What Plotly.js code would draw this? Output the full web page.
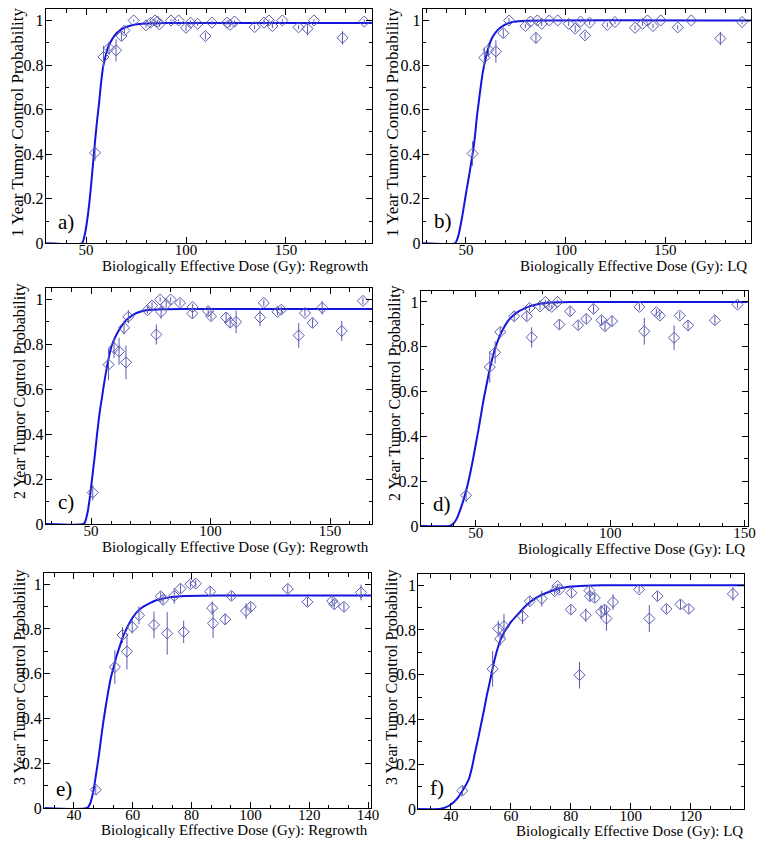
<!DOCTYPE html>
<html>
<head>
<meta charset="utf-8">
<script src="https://cdn.plot.ly/plotly-3.0.1.min.js"></script>
<style>html,body{margin:0;padding:0;background:#fff;}#chart{width:762px;height:846px;}</style>
</head>
<body>
<div id="chart"></div>
<script>
// ---------------- DATA ----------------
// Panel a: 1 year, Regrowth
var aX   = [54.5,58.7,61.5,65.0,67.7,69.2,73.8,80.0,82.3,84.5,85.7,86.7,92.5,96.3,100.0,102.3,105.8,109.7,113.0,120.5,122.0,124.3,134.3,139.0,141.5,143.2,148.2,156.3,160.8,164.0,178.3,189.2];
var aY   = [0.406,0.836,0.876,0.866,0.93,0.955,1.0,0.978,0.99,1.0,0.995,0.982,1.0,1.0,0.967,0.99,0.985,0.93,0.99,0.99,0.98,0.995,0.97,0.99,1.0,0.975,1.0,0.969,0.963,1.0,0.922,0.995];
var aErr = [0.035,0.05,0.03,0.05,0.02,0.015,0.005,0.01,0.01,0.005,0.005,0.01,0.005,0.005,0.015,0.01,0.01,0.015,0.01,0.01,0.01,0.005,0.01,0.01,0.005,0.01,0.005,0.01,0.03,0.005,0.03,0.01];
var aFitX = [30,48,48.7,49.5,50.5,51.5,52.5,53.5,54.5,55.5,56.5,57.5,58.5,59.5,61,63,65,68,72,78,90,193];
var aFitY = [0,0,0.015,0.045,0.1,0.17,0.26,0.36,0.46,0.55,0.63,0.72,0.79,0.83,0.88,0.915,0.94,0.962,0.976,0.985,0.988,0.988];

// Panel b: 1 year, LQ
var bX   = [53.3,59.2,61.3,65.0,68.7,71.6,79.8,82.3,85.1,85.8,88.0,91.8,96.0,101.5,104.8,107.5,109.7,112.0,120.9,124.7,134.8,138.6,141.0,143.8,147.7,156.2,163.0,177.6,188.5];
var bY   = [0.403,0.833,0.869,0.861,0.943,1.0,0.975,0.995,0.922,1.0,0.985,1.0,1.0,0.985,0.963,0.995,0.933,0.99,0.98,0.993,0.967,0.985,1.0,0.975,1.0,0.969,1.0,0.919,0.993];
var bErr = [0.055,0.045,0.03,0.05,0.02,0.01,0.01,0.005,0.025,0.005,0.01,0.005,0.005,0.01,0.015,0.005,0.015,0.01,0.01,0.01,0.01,0.01,0.005,0.01,0.005,0.01,0.005,0.03,0.01];
var bFitX = [28,44.5,45.5,46.5,47.5,48.5,49.5,50.5,51.5,52.5,53.5,54.5,55.5,56.5,57.5,58.5,59.5,61,63,65,67,70,74,80,193];
var bFitY = [0,0,0.015,0.045,0.09,0.14,0.195,0.25,0.3,0.355,0.41,0.48,0.57,0.64,0.71,0.77,0.815,0.87,0.92,0.948,0.966,0.983,0.994,0.999,1];

// Panel c: 2 year, Regrowth
var cX   = [50.7,57.3,59.6,61.7,63.8,64.6,65.6,73.6,75.5,77.3,78.9,79.3,81.4,83.3,87.2,92.4,92.5,99.0,100.2,106.5,108.2,110.7,120.7,122.3,128.0,129.6,136.9,139.5,142.7,146.7,154.9,163.8];
var cY   = [0.14,0.71,0.784,0.769,0.874,0.72,0.923,0.952,0.973,0.844,1.0,0.945,0.979,1.0,0.985,0.938,0.967,0.948,0.926,0.92,0.897,0.9,0.92,0.985,0.945,0.955,0.84,0.94,0.896,0.963,0.86,0.994];
var cErr = [0.035,0.07,0.045,0.06,0.03,0.075,0.03,0.015,0.015,0.045,0.01,0.03,0.015,0.01,0.015,0.02,0.015,0.02,0.02,0.02,0.02,0.05,0.04,0.015,0.015,0.015,0.055,0.015,0.02,0.03,0.045,0.015];
var cFitX = [31,46.8,47.5,48.5,49.5,50.5,51.5,52.5,53.5,54.5,55.5,57,58.5,60,62,64,66,69,73,80,90,168];
var cFitY = [0,0,0.01,0.05,0.12,0.21,0.3,0.4,0.49,0.56,0.63,0.72,0.79,0.83,0.87,0.9,0.92,0.94,0.952,0.957,0.958,0.958];

// Panel d: 2 year, LQ
var dX   = [46.4,55.2,57.2,59.1,64.3,69.0,70.0,70.8,73.9,75.9,77.3,78.3,80.4,81.1,85.1,88.1,91.1,93.8,96.8,98.1,100.7,110.9,112.7,117.2,118.5,123.8,125.9,129.0,139.0,147.4];
var dY   = [0.137,0.709,0.775,0.866,0.936,0.936,0.973,0.842,0.98,1.0,0.984,0.978,1.0,0.899,0.958,0.896,0.924,0.969,0.918,0.892,0.914,0.978,0.869,0.954,0.939,0.84,0.939,0.895,0.918,0.988];
var dErr = [0.03,0.07,0.05,0.02,0.02,0.02,0.015,0.045,0.015,0.01,0.01,0.01,0.01,0.02,0.02,0.02,0.02,0.02,0.02,0.02,0.025,0.015,0.06,0.015,0.015,0.055,0.015,0.02,0.02,0.015];
var dFitX = [29.5,40,41,42,43,44,45,46,47,48,49,50,51,52,53,54,55,56,57,58,59,60,62,64,66,68,70,73,76,80,85,151.2];
var dFitY = [0,0,0.005,0.015,0.035,0.065,0.1,0.14,0.185,0.24,0.3,0.365,0.43,0.5,0.57,0.63,0.69,0.74,0.785,0.82,0.85,0.875,0.915,0.94,0.958,0.97,0.98,0.99,0.995,0.998,1,1];

// Panel e: 3 year, Regrowth
var eX   = [47.4,53.9,56.5,58.0,59.8,62.1,67.2,69.5,70.3,71.7,74.1,76.2,77.3,79.6,81.4,86.3,87.0,87.3,91.4,93.5,98.5,100.1,112.7,119.4,127.8,128.5,131.8,137.6];
var eY   = [0.082,0.63,0.773,0.699,0.809,0.861,0.818,0.946,0.93,0.78,0.948,0.98,0.787,1.0,1.003,0.967,0.893,0.825,0.843,0.948,0.88,0.899,0.979,0.921,0.925,0.91,0.899,0.963];
var eErr = [0.02,0.075,0.035,0.08,0.03,0.04,0.06,0.02,0.02,0.095,0.035,0.02,0.05,0.015,0.015,0.02,0.03,0.065,0.025,0.02,0.035,0.02,0.02,0.02,0.02,0.02,0.02,0.035];
var eFitX = [30,44.5,45.5,46.5,47.5,48.5,49.5,50.5,51.5,52.5,53.5,54.5,55.5,56.5,57.5,59,61,63,65,68,72,78,90,141];
var eFitY = [0,0,0.02,0.07,0.15,0.24,0.34,0.43,0.51,0.58,0.63,0.68,0.72,0.76,0.79,0.83,0.87,0.895,0.91,0.928,0.94,0.947,0.949,0.949];

// Panel f: 3 year, LQ
var fX   = [43.8,53.9,55.8,56.4,57.7,63.9,66.3,70.3,74.6,75.5,76.2,80.0,80.2,82.9,85.0,86.2,86.4,88.0,90.1,91.3,91.9,94.1,102.8,106.2,108.9,111.9,116.6,119.4,134.1];
var fY   = [0.082,0.626,0.806,0.76,0.817,0.861,0.928,0.94,0.973,0.996,0.98,0.891,0.966,0.598,0.866,0.976,0.951,0.943,0.881,0.891,0.851,0.925,0.981,0.851,0.951,0.894,0.914,0.894,0.961];
var fErr = [0.02,0.08,0.035,0.03,0.055,0.035,0.02,0.035,0.015,0.01,0.015,0.02,0.02,0.06,0.03,0.02,0.025,0.02,0.03,0.02,0.055,0.035,0.015,0.06,0.02,0.02,0.02,0.02,0.03];
var fFitX = [29,36,38,40,42,44,46,47,48,49,50,51,52,53,54,55,56,57,58,60,62,64,66,68,70,73,76,80,85,90,138];
var fFitY = [0,0,0.006,0.02,0.045,0.085,0.135,0.185,0.25,0.31,0.375,0.44,0.51,0.57,0.635,0.69,0.735,0.77,0.795,0.835,0.865,0.895,0.92,0.94,0.955,0.972,0.985,0.994,0.998,1,1];

var yTitles = ["1 Year Tumor Control Probability","1 Year Tumor Control Probability",
               "2 Year Tumor Control Probability","2 Year Tumor Control Probability",
               "3 Year Tumor Control Probability","3 Year Tumor Control Probability"];
var xTitles = ["Biologically Effective Dose (Gy): Regrowth","Biologically Effective Dose (Gy): LQ",
               "Biologically Effective Dose (Gy): Regrowth","Biologically Effective Dose (Gy): LQ",
               "Biologically Effective Dose (Gy): Regrowth","Biologically Effective Dose (Gy): LQ"];
var panelLabels = ["a)","b)","c)","d)","e)","f)"];

// ---------------- LAYOUT ----------------
var W = 762, H = 846;
function px(x){ return x / W; }
function py(y){ return 1 - y / H; }

var FONT = "Liberation Serif";
var lineCol = "#1414e0";
var ptCol = "#5a5ab2";

var panels = [
  {box:[45.7,372.3,9.3,243.3],  xr:[29.8,193.2], dt:50, mdt:10,   xt:[370.7,266], yt:[18,122],  yfs:17, lab:[66,222]},
  {box:[422.7,750.7,9.3,243.3], xr:[28.3,192.8], dt:50, mdt:10,   xt:[749,266],   yt:[393,122], yfs:17, lab:[443,221]},
  {box:[45.7,372.3,288.3,524],  xr:[31,167.7],   dt:50, mdt:50/6, xt:[370.7,547], yt:[20,391],  yfs:16, lab:[66,502]},
  {box:[420.7,747.7,290.7,526], xr:[29.5,151.2], dt:50, mdt:50/6, xt:[747,549],   yt:[395,393], yfs:16, lab:[442,504]},
  {box:[44,371,573,808],        xr:[29.8,141],   dt:20, mdt:20/3, xt:[370,830],   yt:[20,677],  yfs:16, lab:[64,789]},
  {box:[418.3,744.3,574,809],   xr:[29.1,137.9], dt:20, mdt:20/3, xt:[745,831],   yt:[392,677], yfs:16, lab:[437,788]}
];

var sets = [
  [aX,aY,aErr,aFitX,aFitY],[bX,bY,bErr,bFitX,bFitY],[cX,cY,cErr,cFitX,cFitY],
  [dX,dY,dErr,dFitX,dFitY],[eX,eY,eErr,eFitX,eFitY],[fX,fY,fErr,fFitX,fFitY]
];

var data = [];
var layout = {
  width: W, height: H,
  margin: {l:0, r:0, t:0, b:0},
  paper_bgcolor: "#fff", plot_bgcolor: "#fff",
  showlegend: false,
  font: {family: FONT, color: "#000"},
  annotations: []
};

panels.forEach(function(p, i){
  var n = i === 0 ? "" : String(i+1);
  var xa = "x" + n, ya = "y" + n;
  var s = sets[i];
  data.push({
    x: s[3], y: s[4], xaxis: xa, yaxis: ya, type: "scatter", mode: "lines",
    line: {color: lineCol, width: 2, shape: "spline", smoothing: 0.6}, hoverinfo: "skip"
  });
  data.push({
    x: s[0], y: s[1], xaxis: xa, yaxis: ya, type: "scatter", mode: "markers",
    marker: {symbol: "diamond-open", size: 8.5, color: ptCol, line: {color: ptCol, width: 1}},
    error_y: {type: "data", array: s[2], visible: true, color: ptCol, thickness: 1, width: 0}
  });
  var common = {
    ticks: "inside", ticklen: 6, tickwidth: 1, tickcolor: "#000",
    showline: true, linecolor: "#000", linewidth: 1, mirror: "ticks",
    showgrid: false, zeroline: false
  };
  var xaxis = Object.assign({}, common, {
    domain: [px(p.box[0]), px(p.box[1])], range: p.xr, anchor: ya,
    tick0: 0, dtick: p.dt, ticklabelstandoff: -7,
    tickfont: {family: FONT, size: 15, color: "#000"},
    minor: {tick0: 0, dtick: p.mdt, ticks: "inside", ticklen: 3.5, tickcolor: "#000", tickwidth: 1, showgrid: false}
  });
  var yaxis = Object.assign({}, common, {
    domain: [py(p.box[3]), py(p.box[2])], range: [0, 1.05], anchor: xa,
    tick0: 0, dtick: 0.2, ticklabelstandoff: -2,
    tickfont: {family: FONT, size: 16, color: "#000"},
    minor: {tick0: 0, dtick: 0.1, ticks: "inside", ticklen: 3.5, tickcolor: "#000", tickwidth: 1, showgrid: false}
  });
  layout["xaxis" + n] = xaxis;
  layout["yaxis" + n] = yaxis;

  layout.annotations.push({
    text: xTitles[i], xref: "paper", yref: "paper",
    x: px(p.xt[0]), y: py(p.xt[1]), xanchor: "right", yanchor: "middle",
    showarrow: false, font: {family: FONT, size: 15, color: "#000"}
  });
  layout.annotations.push({
    text: yTitles[i], xref: "paper", yref: "paper", textangle: -90,
    x: px(p.yt[0]), y: py(p.yt[1]), xanchor: "center", yanchor: "middle",
    showarrow: false, font: {family: FONT, size: p.yfs, color: "#000"}
  });
  layout.annotations.push({
    text: panelLabels[i], xref: "paper", yref: "paper",
    x: px(p.lab[0]), y: py(p.lab[1]), xanchor: "center", yanchor: "middle",
    showarrow: false, font: {family: FONT, size: 21, color: "#000"}
  });
});

Plotly.newPlot("chart", data, layout, {staticPlot: true, displayModeBar: false});
</script>
</body>
</html>
